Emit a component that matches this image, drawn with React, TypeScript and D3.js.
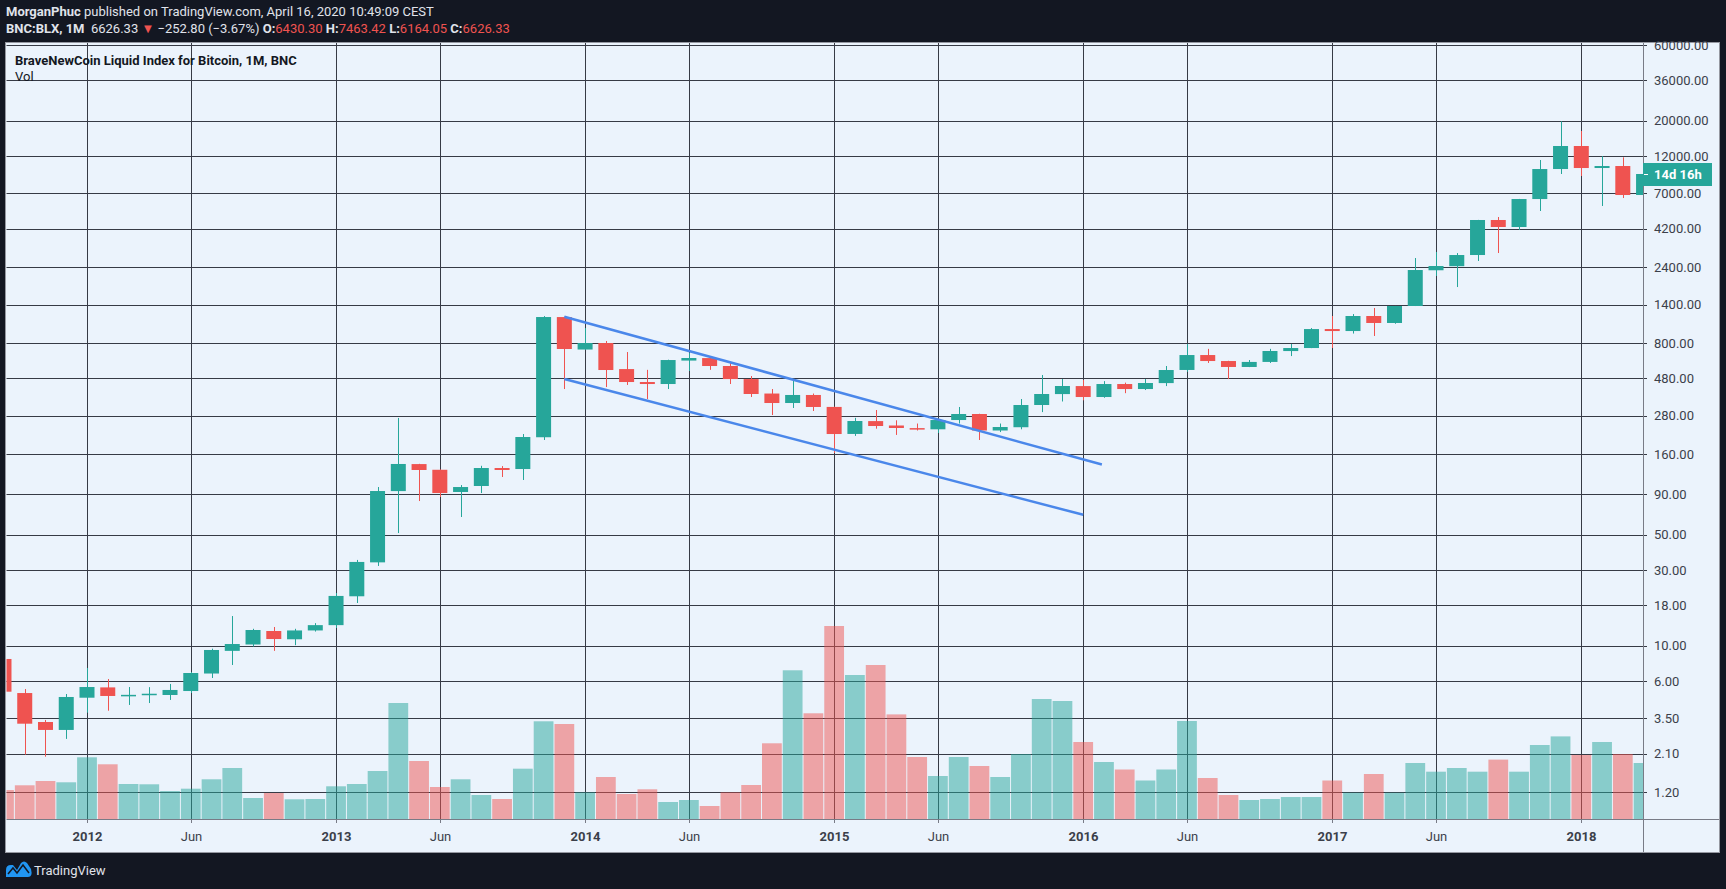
import * as d3 from "d3";
import { useEffect } from "react";

// monthly candles, Sep 2011 .. Apr 2018
const months = [
  "2011-09", "2011-10", "2011-11", "2011-12",
  "2012-01", "2012-02", "2012-03", "2012-04", "2012-05", "2012-06", "2012-07", "2012-08", "2012-09", "2012-10", "2012-11", "2012-12",
  "2013-01", "2013-02", "2013-03", "2013-04", "2013-05", "2013-06", "2013-07", "2013-08", "2013-09", "2013-10", "2013-11", "2013-12",
  "2014-01", "2014-02", "2014-03", "2014-04", "2014-05", "2014-06", "2014-07", "2014-08", "2014-09", "2014-10", "2014-11", "2014-12",
  "2015-01", "2015-02", "2015-03", "2015-04", "2015-05", "2015-06", "2015-07", "2015-08", "2015-09", "2015-10", "2015-11", "2015-12",
  "2016-01", "2016-02", "2016-03", "2016-04", "2016-05", "2016-06", "2016-07", "2016-08", "2016-09", "2016-10", "2016-11", "2016-12",
  "2017-01", "2017-02", "2017-03", "2017-04", "2017-05", "2017-06", "2017-07", "2017-08", "2017-09", "2017-10", "2017-11", "2017-12",
  "2018-01", "2018-02", "2018-03", "2018-04",
];

// [open, high, low, close]
const ohlc: [number, number, number, number][] = [
  [8.27, 8.6, 4.8, 5.15], [5.05, 5.35, 2.07, 3.24], [3.32, 3.42, 2.01, 2.96], [2.96, 4.98, 2.6, 4.77],
  [4.72, 7.26, 3.8, 5.51], [5.48, 6.19, 3.91, 4.84], [4.86, 5.51, 4.25, 4.92], [4.9, 5.5, 4.37, 5.0],
  [4.91, 5.76, 4.57, 5.28], [5.2, 6.85, 5.05, 6.75], [6.7, 9.6, 6.28, 9.42], [9.3, 15.4, 7.58, 10.27],
  [10.2, 12.8, 9.9, 12.58], [12.4, 13.14, 9.3, 11.04], [11.0, 12.8, 10.1, 12.5], [12.5, 13.9, 12.3, 13.5],
  [13.5, 21.5, 12.95, 20.6], [20.5, 34.7, 18.6, 33.7], [33.5, 99.7, 31.8, 94.1], [94, 271, 51.2, 139.2],
  [139, 139.5, 81.4, 127.6], [128, 128.5, 86.3, 91.4], [92.8, 102.6, 64.6, 99.7], [101.2, 135.6, 91.4, 131.3],
  [131.3, 135, 115.3, 127.6], [129.4, 214.8, 110.4, 205.7], [205, 1185, 197, 1168.6], [1168, 1175, 412, 735.6],
  [730, 996, 728, 802], [802, 826, 424, 542.6], [550, 704, 437, 456], [456, 544, 356.6, 443],
  [443, 630, 412, 627], [622, 694, 535, 645.7], [645, 648, 544, 575], [575, 600, 443, 476],
  [476, 497.6, 367, 383.4], [386, 412, 282.8, 336.5], [336.5, 476, 313, 378], [378, 386, 299.7, 317.7],
  [318, 319, 163.2, 214.8], [215, 271.4, 209, 259.3], [259, 304, 232, 241.2], [243, 262, 212, 234.4],
  [234, 250, 226, 230], [230, 263, 218, 263], [263, 317.7, 250, 287], [287, 288, 197, 226],
  [226, 250, 221, 237.7], [237, 356.6, 230, 326.9], [327, 505, 295, 383.4], [383, 476, 344, 430.5],
  [430, 470, 350, 367], [367, 462, 363, 443], [443, 452, 388, 412], [412, 476, 406, 449.6],
  [449, 575, 430, 542.6], [543, 791, 529, 674], [674, 737, 601, 618], [618, 620, 476, 567],
  [567, 627, 566, 610], [610, 737, 601, 714.5], [714, 791, 664, 746], [746, 996, 745, 982],
  [982, 1186, 746, 954], [954, 1220, 920, 1186], [1186, 1332, 888, 1072], [1072, 1372, 1060, 1371],
  [1371, 2746, 1370, 2308], [2300, 2996, 2117, 2446], [2440, 2950, 1804, 2868], [2868, 4770, 2630, 4762],
  [4762, 4972, 2952, 4302], [4302, 6460, 4120, 6452], [6450, 11348, 5424, 9961], [9961, 19880, 9267, 13900],
  [13900, 17275, 9000, 10107], [10107, 12000, 5833, 10404], [10404, 11800, 6546, 6838], [6838, 9300, 6600, 9267],
];

// volume, same months (arbitrary units)
const volumes = [
  29, 33.7, 38, 36.7,
  61.7, 54.7, 35, 34.7, 28, 30.3, 39.7, 51, 21, 26, 19.7, 20,
  32.7, 35, 48, 116, 58, 32, 39.7, 24, 20, 50.3, 97.7, 95,
  26.7, 42, 25, 29.7, 17, 19, 13, 26.7, 34, 75.7, 148.7, 105.7,
  193, 144, 154, 104.6, 62, 43, 62, 53, 42, 65, 120, 118,
  77, 57, 49.5, 38.5, 49.5, 98, 41, 24, 19, 20, 22, 22,
  38.5, 26.4, 45, 26.4, 56, 47.3, 51, 47.3, 59.4, 47.3, 74, 82.6,
  64, 77, 65, 56,
];

const priceTicks = [60000, 36000, 20000, 12000, 7000, 4200, 2400, 1400, 800, 480, 280, 160, 90, 50, 30, 18, 10, 6, 3.5, 2.1, 1.2];

const timeTicks: [string, string][] = [
  ["2012-01", "2012"], ["2012-06", "Jun"], ["2013-01", "2013"], ["2013-06", "Jun"],
  ["2014-01", "2014"], ["2014-06", "Jun"], ["2015-01", "2015"], ["2015-06", "Jun"],
  ["2016-01", "2016"], ["2016-06", "Jun"], ["2017-01", "2017"], ["2017-06", "Jun"],
  ["2018-01", "2018"],
];

// drawn channel: [month, fraction of month, price]
const channelUpper: [string, number, number][] = [["2013-12", 0, 1173], ["2016-01", 0.9, 138]];
const channelLower: [string, number, number][] = [["2013-12", 0, 476], ["2016-01", 0, 66.7]];

const UP = "#26a69a";
const DOWN = "#ef5350";
const UP_VOL = "rgba(38,166,154,0.5)";
const DOWN_VOL = "rgba(239,83,80,0.5)";
const BG = "#ebf3fc";
const DARK = "#131722";
const GRID = "#363a45";
const FONT = "Roboto, 'Noto Sans', sans-serif";

const idx = (m: string) => months.indexOf(m);

export default function App() {
  useEffect(() => {
    document.body.style.margin = "0";
    document.body.style.background = DARK;
  }, []);

  const left = 6.5;
  const right = 1643;
  const top = 43;
  const bottom = 819;

  const x = d3.scaleLinear().domain([idx("2012-01"), idx("2018-01")]).range([87, 1581.3]);
  const y = d3.scaleLog().domain([1.2, 60000]).range([792.3, 45]);
  const v = d3.scaleLinear().domain([0, 193]).range([bottom, 626]);
  const step = x(1) - x(0);
  const bodyW = 15;

  const line = d3.line<[string, number, number]>()
    .x((d) => x(idx(d[0]) + d[1]))
    .y((d) => y(d[2]));

  return (
    <svg width={1726} height={889} style={{ position: "absolute", left: 0, top: 0, display: "block" }} fontFamily={FONT}>
      <rect width={1726} height={889} fill={DARK} />

      {/* header */}
      <text x={6} y={16} fontSize={13} fill="#e0e3eb" style={{ whiteSpace: "pre" }}>
        <tspan fontWeight="bold">MorganPhuc</tspan>
        <tspan> published on TradingView.com, April 16, 2020 10:49:09 CEST</tspan>
      </text>
      <text x={6} y={33} fontSize={13} fill="#e0e3eb" style={{ whiteSpace: "pre" }}>
        <tspan fontWeight="bold">BNC:BLX, 1M</tspan>
        <tspan>  6626.33 </tspan>
        <tspan fill={DOWN}>▼</tspan>
        <tspan> −252.80 (−3.67%) </tspan>
        <tspan fontWeight="bold">O:</tspan>
        <tspan fill={DOWN}>6430.30</tspan>
        <tspan fontWeight="bold"> H:</tspan>
        <tspan fill={DOWN}>7463.42</tspan>
        <tspan fontWeight="bold"> L:</tspan>
        <tspan fill={DOWN}>6164.05</tspan>
        <tspan fontWeight="bold"> C:</tspan>
        <tspan fill={DOWN}>6626.33</tspan>
      </text>

      {/* panel */}
      <rect x={5.5} y={42.5} width={1714} height={810} fill={BG} stroke="#9598a1" />

      <defs>
        <clipPath id="plot">
          <rect x={left} y={top} width={right - left} height={bottom - top} />
        </clipPath>
      </defs>

      {/* grid */}
      <g stroke={GRID} strokeWidth={1}>
        {priceTicks.map((p) => {
          const yy = Math.round(y(p)) + 0.5;
          return <line key={p} x1={left} x2={right + 4} y1={yy} y2={yy} />;
        })}
        {timeTicks.map(([m]) => {
          const xx = Math.round(x(idx(m))) + 0.5;
          return <line key={m} x1={xx} x2={xx} y1={top} y2={bottom} />;
        })}
      </g>

      <g clipPath="url(#plot)">
        {/* volume */}
        {volumes.map((val, i) => {
          const up = ohlc[i][3] >= ohlc[i][0];
          const cx = x(i);
          return (
            <rect key={"v" + i} x={cx - step / 2 + 0.5} width={step - 1} y={v(val)} height={bottom - v(val)}
              fill={up ? UP_VOL : DOWN_VOL} />
          );
        })}

        {/* candles */}
        {ohlc.map(([o, h, l, c], i) => {
          const up = c >= o;
          const col = up ? UP : DOWN;
          const cx = x(i);
          const wx = Math.round(cx) + 0.5;
          const yTop = y(Math.max(o, c));
          const yBot = y(Math.min(o, c));
          return (
            <g key={"c" + i}>
              <line x1={wx} x2={wx} y1={y(h)} y2={y(l)} stroke={col} strokeWidth={1} />
              <rect x={cx - bodyW / 2} width={bodyW} y={yTop} height={Math.max(1.5, yBot - yTop)} fill={col} />
            </g>
          );
        })}

        {/* channel */}
        <path d={line(channelUpper) || ""} fill="none" stroke="#4a87ea" strokeWidth={2.5} />
        <path d={line(channelLower) || ""} fill="none" stroke="#4a87ea" strokeWidth={2.5} />
      </g>

      {/* title */}
      <text x={15} y={65} fontSize={13} fontWeight="bold" fill={DARK}>BraveNewCoin Liquid Index for Bitcoin, 1M, BNC</text>
      <text x={15} y={81} fontSize={13} fill={DARK}>Vol</text>

      {/* axes */}
      <line x1={left} x2={1719} y1={bottom + 0.5} y2={bottom + 0.5} stroke="#787b86" />
      <line x1={right + 0.5} x2={right + 0.5} y1={top} y2={852} stroke="#787b86" />

      {priceTicks.map((p) => (
        <text key={"pl" + p} x={1654} y={y(p)} dy="0.35em" fontSize={13} fill="#3b3f4a">
          {p.toFixed(2)}
        </text>
      ))}

      {timeTicks.map(([m, label]) => {
        const xx = Math.round(x(idx(m))) + 0.5;
        const year = label !== "Jun";
        return (
          <g key={"tl" + m}>
            <line x1={xx} x2={xx} y1={bottom} y2={bottom + 4} stroke="#787b86" />
            <text x={xx} y={836} dy="0.35em" textAnchor="middle" fontSize={13}
              fontWeight={year ? "bold" : "normal"} fill="#3b3f4a">{label}</text>
          </g>
        );
      })}

      {/* countdown label */}
      <rect x={right} y={163} width={69} height={23} fill={UP} />
      <line x1={right + 1} x2={right + 5} y1={174.5} y2={174.5} stroke="#ffffff" />
      <text x={1654} y={174.5} dy="0.35em" fontSize={13} fontWeight="bold" fill="#ffffff">14d 16h</text>

      {/* footer logo */}
      <path d="M6,877 L6,870 Q6,865 11,865 L13,865 L17,870 L21,863 Q24,860 27,863 L31,869 Q33,877 28,877 Z" fill="#2196f3" />
      <path d="M8,874 L13,868 L17,873 L23,865 L29,873" fill="none" stroke="#131722" strokeWidth={1.5} />
      <text x={34} y={875} fontSize={13} fill="#e0e3eb">TradingView</text>
    </svg>
  );
}
